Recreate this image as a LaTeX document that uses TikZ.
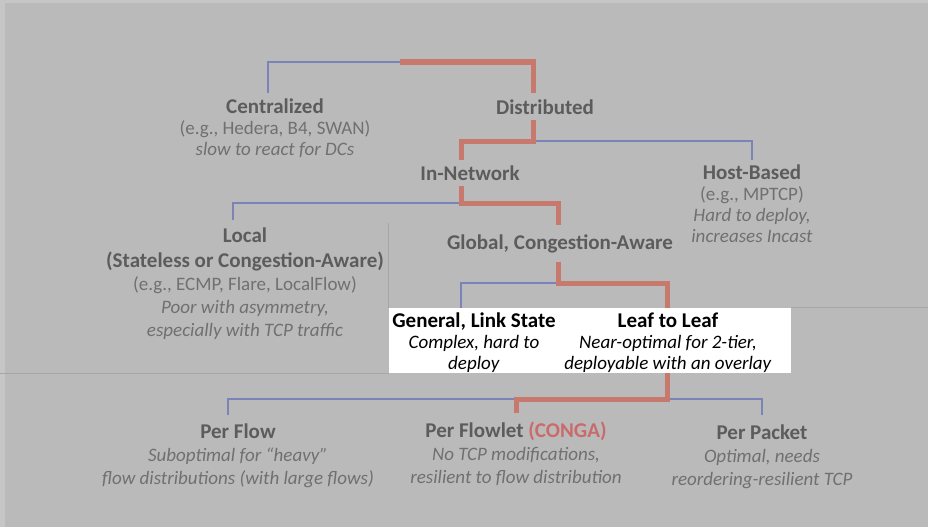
\documentclass[tikz,border=0pt]{standalone}
\usepackage{fontspec}
\setmainfont{Carlito}
\definecolor{bggray}{HTML}{BABABA}
\definecolor{edgegray}{HTML}{C6C6C6}
\definecolor{divgray}{HTML}{A6A6A6}
\definecolor{hdgray}{HTML}{5C5C5C}
\definecolor{txtgray}{HTML}{707070}
\definecolor{pathred}{HTML}{C8796E}
\definecolor{branchblue}{HTML}{7B83B8}
\definecolor{conga}{HTML}{CB6A6A}
\newcommand\hd[1]{{\fontsize{21}{21}\selectfont\bfseries\color{hdgray}#1}}
\newcommand\hdk[1]{{\fontsize{21}{21}\selectfont\bfseries #1}}
\begin{document}
\begin{tikzpicture}[x=1pt,y=-1pt]
\tikzset{
  lbl/.style={align=center, inner sep=0pt, anchor=north, text=txtgray,
              font=\fontsize{19}{21}\selectfont},
  lblmid/.style={lbl, font=\fontsize{19}{23}\selectfont},
  lblwide/.style={lbl, font=\fontsize{19}{23}\selectfont},
  branch/.style={draw=branchblue, line width=1.8pt},
  chosen/.style={draw=pathred, line width=5pt, line join=miter},
  divider/.style={draw=divgray, line width=1.2pt}
}
\useasboundingbox (0,0) rectangle (928,527);
% page and highlighted band
\fill[edgegray] (0,0) rectangle (928,527);
\fill[bggray] (5,3) rectangle (928,527);
\fill[white] (389,308) rectangle (791,373);
\draw[divider] (0,373.5) -- (389,373.5);
\draw[divider] (388.5,223) -- (388.5,308);
\draw[divider] (791,307.5) -- (928,307.5);

% labels
\node[lbl] (central) at (275,98.5) {\hd{Centralized}\\(e.g., Hedera, B4, SWAN)\\\textit{slow to react for DCs}};
\node[lbl] (distrib) at (545,100) {\hd{Distributed}};
\node[lbl] (innet) at (470,166) {\hd{In-Network}};
\node[lbl] (host) at (752,165) {\hd{Host-Based}\\(e.g., MPTCP)\\\textit{Hard to deploy,}\\\textit{increases Incast}};
\node[lblwide] (local) at (245,228) {\hd{Local}\\[2pt]\hd{(Stateless or Congestion-Aware)}\\(e.g., ECMP, Flare, LocalFlow)\\\textit{Poor with asymmetry,}\\\textit{especially with TCP traffic}};
\node[lbl] (global) at (560,235) {\hd{Global, Congestion-Aware}};
\node[lbl, text=black] (general) at (474,313) {\hdk{General, Link State}\\\textit{Complex, hard to}\\\textit{deploy}};
\node[lbl, text=black] (leaf) at (668,313) {\hdk{Leaf to Leaf}\\\textit{Near-optimal for 2-tier,}\\\textit{deployable with an overlay}};
\node[lblmid] (perflow) at (238,424) {\hd{Per Flow}\\\textit{Suboptimal for “heavy”}\\\textit{flow distributions (with large flows)}};
\node[lblmid] (flowlet) at (516,422) {\hd{Per Flowlet \textcolor{conga}{(CONGA)}}\\\textit{No TCP modifications,}\\\textit{resilient to flow distribution}};
\node[lblmid] (perpacket) at (762,424.5) {\hd{Per Packet}\\\textit{Optimal, needs}\\\textit{reordering-resilient TCP}};

% connector end points and junctions
\coordinate (root) at (400,62);
\coordinate (central-in) at (268,93);
\coordinate (distrib-in) at (533,93);
\coordinate (distrib-out) at (533,120);
\coordinate (bar2) at (533,141);
\coordinate (innet-in) at (461,160);
\coordinate (host-in) at (752,160);
\coordinate (innet-out) at (461,186);
\coordinate (bar3) at (461,203);
\coordinate (local-in) at (233,220);
\coordinate (global-in) at (558,225);
\coordinate (global-out) at (558,262);
\coordinate (bar4) at (558,283);
\coordinate (general-in) at (461,308);
\coordinate (leaf-in) at (667,308);
\coordinate (leaf-out) at (667,373);
\coordinate (bar5) at (667,399);
\coordinate (perflow-in) at (228,415);
\coordinate (flowlet-in) at (516,413);
\coordinate (perpacket-in) at (762,415);

% other branches
\draw[branch] (root) -| (central-in);
\draw[branch] (bar2) -| (host-in);
\draw[branch] (bar3) -| (local-in);
\draw[branch] (bar4) -| (general-in);
\draw[branch] (bar5) -| (perflow-in);
\draw[branch] (bar5) -| (perpacket-in);

% chosen path
\draw[chosen] (root) -| (distrib-in);
\draw[chosen] (distrib-out) -- (bar2) -| (innet-in);
\draw[chosen] (innet-out) -- (bar3) -| (global-in);
\draw[chosen] (global-out) -- (bar4) -| (leaf-in);
\draw[chosen] (leaf-out) -- (bar5) -| (flowlet-in);
\end{tikzpicture}
\end{document}
